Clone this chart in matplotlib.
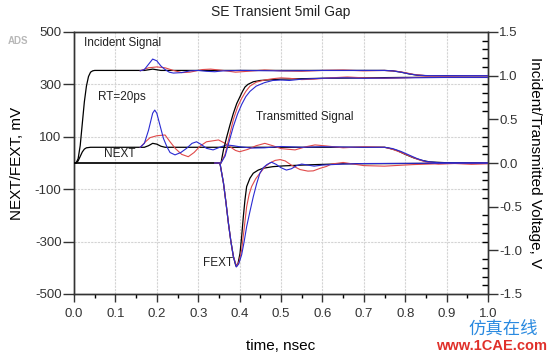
import matplotlib
matplotlib.use("Agg")
import matplotlib.pyplot as plt
from matplotlib.ticker import MultipleLocator

# Incident signal, V (right axis)
INC_T = [0, 0.005, 0.01, 0.015, 0.02, 0.025, 0.03, 0.035, 0.04, 0.045, 0.05, 0.17, 0.19, 0.21,
         0.75, 0.77, 0.79, 0.81, 0.83, 0.85, 1.0]
INC_BLACK = [0, 0, 0.05, 0.2, 0.45, 0.7, 0.88, 0.99, 1.04, 1.055, 1.06, 1.06, 1.075, 1.06,
             1.06, 1.055, 1.04, 1.02, 1.005, 1.0, 1.0]
INC_BLUE_T = [0.16, 0.17, 0.18, 0.19, 0.2, 0.21, 0.22, 0.23, 0.24, 0.26, 0.28, 0.3, 0.32, 0.34,
              0.36, 0.4, 0.5, 0.6, 0.7, 0.75, 0.77, 0.79, 0.81, 0.83, 0.86, 1.0]
INC_BLUE = [1.056, 1.07, 1.13, 1.19, 1.17, 1.11, 1.07, 1.04, 1.03, 1.035, 1.055, 1.06, 1.05, 1.045,
            1.055, 1.06, 1.055, 1.06, 1.06, 1.06, 1.055, 1.04, 1.02, 1.005, 1.0, 1.0]
INC_RED_T = [0.16, 0.18, 0.2, 0.22, 0.24, 0.26, 0.28, 0.31, 0.33, 0.36, 0.39, 0.42, 0.46, 0.5,
             0.55, 0.6, 0.65, 0.7, 0.75, 0.78, 0.8, 0.82, 0.85, 0.9, 0.95, 1.0]
INC_RED = [1.056, 1.09, 1.1, 1.09, 1.06, 1.035, 1.04, 1.07, 1.075, 1.06, 1.04, 1.05, 1.065, 1.055,
           1.05, 1.06, 1.065, 1.055, 1.06, 1.05, 1.035, 1.015, 1.0, 0.995, 1.0, 1.0]

# Transmitted signal, V (right axis)
TR_T = [0, 0.355, 0.361, 0.369, 0.377, 0.385, 0.393, 0.401, 0.407, 0.413, 0.42, 0.433, 0.45,
        0.466, 0.5, 0.6, 0.7, 0.8, 0.9, 1.0]
TR_BLACK = [0, 0, 0.15, 0.3, 0.44, 0.57, 0.68, 0.76, 0.82, 0.87, 0.9, 0.93, 0.945,
            0.95, 0.96, 0.97, 0.975, 0.98, 0.98, 0.98]
TR_RED_T = [0.34, 0.355, 0.365, 0.375, 0.385, 0.395, 0.405, 0.415, 0.425, 0.44, 0.46, 0.48, 0.5,
            0.52, 0.55, 0.58, 0.62, 0.66, 0.7, 0.75, 0.8, 0.85, 0.9, 1.0]
TR_RED = [0, 0, 0.1, 0.3, 0.5, 0.64, 0.74, 0.82, 0.88, 0.925, 0.95, 0.965, 0.975,
          0.97, 0.955, 0.96, 0.975, 0.985, 0.975, 0.97, 0.975, 0.985, 0.98, 0.98]
TR_BLUE_T = [0.34, 0.355, 0.365, 0.375, 0.385, 0.395, 0.405, 0.415, 0.425, 0.44, 0.46, 0.48, 0.5,
             0.52, 0.55, 0.6, 0.65, 0.7, 0.8, 0.9, 1.0]
TR_BLUE = [0, 0, 0.08, 0.25, 0.42, 0.56, 0.67, 0.76, 0.82, 0.88, 0.92, 0.945, 0.95,
           0.945, 0.96, 0.97, 0.975, 0.97, 0.975, 0.98, 0.98]

# NEXT, mV (left axis)
NEXT_T = [0, 0.005, 0.01, 0.015, 0.02, 0.025, 0.03, 0.04, 0.17, 0.18, 0.19, 0.2, 0.21, 0.22,
          0.75, 0.76, 0.78, 0.8, 0.82, 0.84, 0.86, 0.9, 1.0]
NEXT_BLACK = [0, 0, 8, 25, 42, 53, 58, 60, 60, 66, 75, 72, 64, 60,
              60, 57, 48, 33, 20, 10, 4, 1, 0]
NEXT_BLUE_T = [0.16, 0.17, 0.18, 0.19, 0.195, 0.2, 0.21, 0.216, 0.225, 0.232, 0.244, 0.258, 0.272,
               0.285, 0.296, 0.308, 0.32, 0.336, 0.352, 0.369, 0.385, 0.4, 0.43, 0.46, 0.5, 0.55,
               0.6, 0.7, 0.75, 0.77, 0.79, 0.81, 0.83, 0.85, 0.88, 1.0]
NEXT_BLUE = [60, 75, 125, 190, 202, 190, 130, 94, 60, 40, 31, 40, 56,
             75, 81, 70, 56, 50, 60, 69, 66, 62, 57, 58, 63, 60,
             62, 60, 60, 55, 44, 30, 16, 6, 1, 0]
NEXT_RED_T = [0.16, 0.172, 0.184, 0.2, 0.22, 0.232, 0.245, 0.26, 0.276, 0.29, 0.305, 0.32, 0.349,
              0.365, 0.377, 0.39, 0.4, 0.42, 0.44, 0.461, 0.48, 0.5, 0.534, 0.56, 0.582, 0.61,
              0.65, 0.7, 0.75, 0.77, 0.79, 0.81, 0.83, 0.85, 0.88, 0.92, 0.96, 1.0]
NEXT_RED = [60, 80, 97, 104, 107, 81, 55, 33, 24, 40, 65, 81, 88,
            75, 62, 48, 43, 52, 66, 75, 66, 55, 50, 62, 69, 65,
            58, 62, 60, 52, 40, 27, 14, 4, -4, -2, -5, -3]

# FEXT, mV (left axis)
FEXT_T = [0, 0.35, 0.353, 0.361, 0.367, 0.373, 0.379, 0.385, 0.391, 0.396, 0.401, 0.405, 0.409,
          0.413, 0.417, 0.425, 0.433, 0.445, 0.457, 0.48, 0.506, 0.55, 0.586, 0.65, 0.8, 1.0]
FEXT_BLACK = [0, 0, -5, -76, -150, -230, -300, -357, -393, -385, -345, -280, -205,
              -140, -90, -58, -39, -27, -20, -14, -11, -8, -6, -3, -2, 0]
FEXT_RED_T = [0.34, 0.35, 0.353, 0.361, 0.367, 0.373, 0.379, 0.385, 0.393, 0.399, 0.405, 0.411,
              0.417, 0.423, 0.429, 0.439, 0.449, 0.461, 0.473, 0.486, 0.498, 0.51, 0.525, 0.546,
              0.565, 0.578, 0.595, 0.61, 0.622, 0.65, 0.7, 0.75, 0.82, 0.9, 1.0]
FEXT_RED = [0, 0, -5, -76, -150, -230, -300, -357, -395, -375, -332, -250,
            -167, -120, -90, -60, -39, -15, 0, 10, 13, 8, -8, -25,
            -31, -30, -20, -13, -4, 2, -10, -12, -6, -2, 0]
FEXT_BLUE_T = [0.34, 0.35, 0.353, 0.361, 0.367, 0.373, 0.379, 0.385, 0.392, 0.398, 0.405, 0.411,
               0.417, 0.425, 0.433, 0.441, 0.449, 0.457, 0.466, 0.477, 0.488, 0.5, 0.513, 0.525,
               0.538, 0.55, 0.565, 0.58, 0.6, 0.65, 0.7, 1.0]
FEXT_BLUE = [0, 0, -5, -76, -150, -230, -300, -357, -397, -385, -350, -300,
             -243, -185, -129, -80, -39, -18, -6, 3, -5, -18, -27, -22,
             -10, -4, -8, -12, -8, -4, -2, 0]

LEFT_TICKS = [-500, -300, -100, 100, 300, 500]
RIGHT_TICKS = [-1.5, -1.0, -0.5, 0.0, 0.5, 1.0, 1.5]
X_TICKS = [0.0, 0.1, 0.2, 0.3, 0.4, 0.5, 0.6, 0.7, 0.8, 0.9, 1.0]

BLUE = "#2a2ad2"
RED = "#e04a4a"
GRID = "#d4d4d4"
FONT = "Liberation Sans"

plt.rcParams["font.family"] = FONT


def main():
    fig = plt.figure(figsize=(5.54, 3.52), dpi=100)
    ax = fig.add_axes([74 / 554, 58 / 352, 414 / 554, 262 / 352])
    ax2 = ax.twinx()

    # faint grid at the inner tick positions
    for x in X_TICKS[1:-1]:
        ax.axvline(x, color=GRID, linestyle=(0, (2, 1)), linewidth=0.8, zorder=1)
    for y in LEFT_TICKS[1:-1]:
        ax.axhline(y, color=GRID, linestyle=(0, (2, 1)), linewidth=0.8, zorder=1)

    # NEXT / FEXT on left axis
    ax.plot(NEXT_T, NEXT_BLACK, color="black", lw=0.9, zorder=3)
    ax.plot(FEXT_T, FEXT_BLACK, color="black", lw=0.9, zorder=3)
    ax.plot(NEXT_RED_T, NEXT_RED, color=RED, lw=0.8, zorder=4)
    ax.plot(FEXT_RED_T, FEXT_RED, color=RED, lw=0.8, zorder=4)
    ax.plot(NEXT_BLUE_T, NEXT_BLUE, color=BLUE, lw=0.8, zorder=5)
    ax.plot(FEXT_BLUE_T, FEXT_BLUE, color=BLUE, lw=0.8, zorder=5)

    # incident / transmitted on right axis
    ax2.plot(INC_T, INC_BLACK, color="black", lw=0.9, zorder=3)
    ax2.plot(TR_T, TR_BLACK, color="black", lw=0.9, zorder=3)
    ax2.plot(INC_RED_T, INC_RED, color=RED, lw=0.8, zorder=4)
    ax2.plot(TR_RED_T, TR_RED, color=RED, lw=0.8, zorder=4)
    ax2.plot(INC_BLUE_T, INC_BLUE, color=BLUE, lw=0.8, zorder=5)
    ax2.plot(TR_BLUE_T, TR_BLUE, color=BLUE, lw=0.8, zorder=5)

    ax.set_xlim(0, 1.0)
    ax.set_ylim(-500, 500)
    ax2.set_ylim(-1.5, 1.5)

    ax.set_xticks(X_TICKS)
    ax.set_xticklabels(["%.1f" % v for v in X_TICKS])
    ax.xaxis.set_minor_locator(MultipleLocator(0.05))
    ax.set_yticks(LEFT_TICKS)
    ax.set_yticklabels([str(v) for v in LEFT_TICKS])
    ax2.set_yticks(RIGHT_TICKS)
    ax2.set_yticklabels(["%.1f" % v for v in RIGHT_TICKS])
    ax2.yaxis.set_minor_locator(MultipleLocator(0.1))

    ax.tick_params(axis="x", which="major", direction="out", length=6, width=1, pad=4,
                   labelsize=9.5, colors="#333333")
    ax.tick_params(axis="x", which="minor", direction="out", length=3, width=1)
    ax.tick_params(axis="y", which="major", direction="out", length=8, width=1, pad=1,
                   labelsize=9.5, colors="#333333")
    ax2.tick_params(axis="y", which="major", direction="out", length=7, width=1, pad=1,
                    labelsize=9.5, colors="#333333")
    ax2.tick_params(axis="y", which="minor", direction="in", length=4, width=1)

    for a in (ax, ax2):
        for s in a.spines.values():
            s.set_color("#333333")
            s.set_linewidth(1.0)

    ax.set_xlabel("time, nsec", fontsize=11, labelpad=14)
    ax.set_ylabel("NEXT/FEXT, mV", fontsize=11, labelpad=8)
    ax2.set_ylabel("Incident/Transmitted Voltage, V", fontsize=11, rotation=270, labelpad=14)

    fig.text(281 / 554, 1 - 12 / 352, "SE Transient 5mil Gap", fontsize=10,
             ha="center", va="center", color="#222222")
    fig.text(18 / 554, 1 - 41 / 352, "ADS", fontsize=7, fontweight="bold",
             ha="center", va="center", color="#b8b8b8")

    # curve annotations
    ax.text(0.025, 458, "Incident Signal", fontsize=8.5, va="center", color="#222222")
    ax.text(0.057, 253, "RT=20ps", fontsize=8.5, va="center", color="#222222")
    ax.text(0.072, 36, "NEXT", fontsize=8.5, va="center", color="#222222")
    ax.text(0.44, 175, "Transmitted Signal", fontsize=8.5, va="center", color="#222222")
    ax.text(0.385, -383, "FEXT", fontsize=8.5, ha="right", va="center", color="#222222")

    # site watermark in the corner
    fig.text(503 / 554, 1 - 329 / 352, "仿真在线", fontsize=12.5, color="#2a8ae0",
             family=["Noto Sans CJK SC", "DejaVu Sans"], ha="center", va="center")
    fig.text(492 / 554, 1 - 346 / 352, "www.1CAE.com", fontsize=10.5, color="#e0302a",
             fontweight="bold", ha="center", va="center")

    fig.savefig("out.png", dpi=100)


if __name__ == "__main__":
    main()
